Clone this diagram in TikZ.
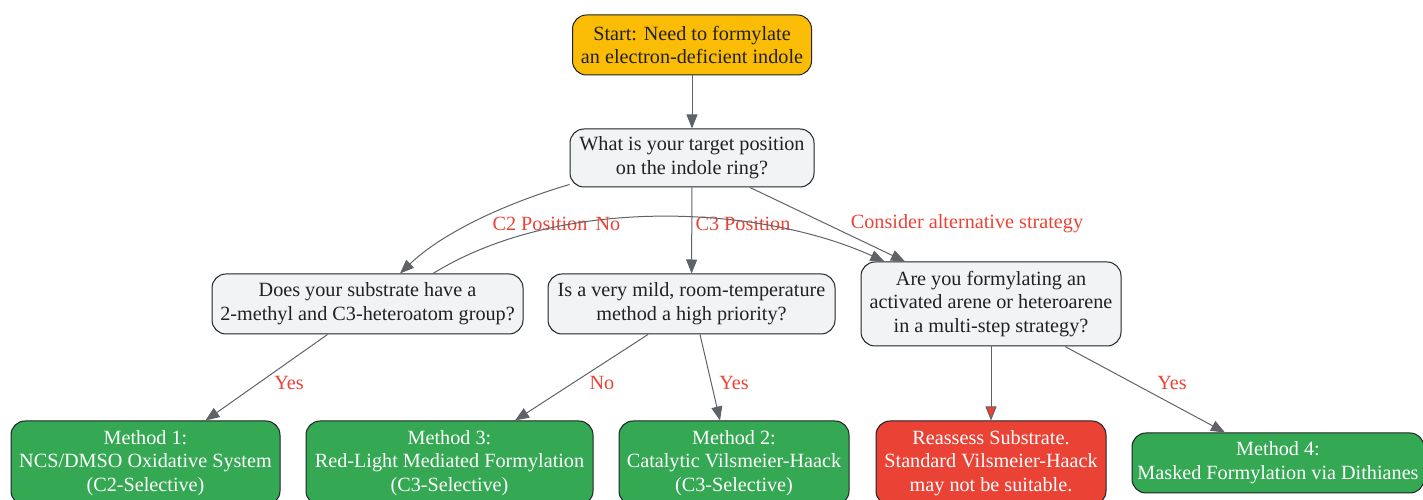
\documentclass[tikz,border=0pt]{standalone}
\usepackage{fontspec}
\setmainfont{Liberation Serif}
\usetikzlibrary{positioning}
\usetikzlibrary{arrows.meta}
\definecolor{startc}{HTML}{FBBC05}
\definecolor{askc}{HTML}{F1F3F4}
\definecolor{goodc}{HTML}{34A853}
\definecolor{badc}{HTML}{EA4335}
\definecolor{edgec}{HTML}{5F6368}
\definecolor{inkc}{HTML}{202124}
\tikzset{box/.style={draw=inkc,line width=1pt,rounded corners=14pt,align=center,inner sep=0pt,font=\fontsize{20.2}{23.8}\selectfont}}
\tikzset{ask/.style={box,fill=askc,text=inkc}}
\tikzset{meth/.style={box,fill=goodc,text=white,minimum height=84pt}}
\tikzset{lbl/.style={text=badc,font=\fontsize{20.2}{23.8}\selectfont,inner sep=1pt}}
\tikzset{>={Triangle[length=14pt,width=11pt]}}

\begin{document}
\begin{tikzpicture}[x=1pt,y=1pt]
        \useasboundingbox (0,0) rectangle (1423,500);
        \node[box, fill=startc, text=inkc, minimum width=239pt, minimum height=60pt] (S) at (692,455) {Start: Need to formylate\\an electron-deficient indole};
        \node[ask, minimum width=244pt, minimum height=58pt] (Q1) at (692,342) {What is your target position\\on the indole ring?};
        \node[ask, minimum width=311pt, minimum height=60pt] (Q2) at (367.5,196) {Does your substrate have a\\2-methyl and C3-heteroatom group?};
        \node[ask, minimum width=287pt, minimum height=60pt] (Q3) at (691.5,196) {Is a very mild, room-temperature\\method a high priority?};
        \node[ask, minimum width=260pt, minimum height=84pt] (Q4) at (991,196) {Are you formylating an\\activated arene or heteroarene\\in a multi-step strategy?};

        \node[meth, minimum width=269pt] (M1) at (145.5,37) {Method 1:\\NCS/DMSO Oxidative System\\(C2-Selective)};
        \node[meth, minimum width=287pt] (M3) at (449.5,37) {Method 3:\\Red-Light Mediated Formylation\\(C3-Selective)};
        \node[meth, minimum width=230pt] (M2) at (734,37) {Method 2:\\Catalytic Vilsmeier-Haack\\(C3-Selective)};
        \node[meth, fill=badc, minimum width=230pt] (R) at (991,37) {Reassess Substrate.\\Standard Vilsmeier-Haack\\may not be suitable.};
        \node[meth, minimum width=292pt, minimum height=60pt] (M4) at (1278,37) {Method 4:\\Masked Formylation via Dithianes};

        \begin{scope}[edgec, line width=1pt]
        \draw[->] (S) -- (Q1);
        \draw[->] ([yshift=3pt]Q1.south west) .. controls (500,295) and (440,265) .. ([xshift=32.5pt]Q2.north)
            node[lbl] at (540,276) {C2 Position};
        \draw[->] (Q1) -- (Q3)
            node[lbl] at (743,276) {C3 Position};
        \draw[->] ([xshift=58pt]Q1.south) -- ([xshift=-86pt]Q4.north)
            node[lbl] at (967,276) {Consider alternative strategy};
        \draw[->] ([xshift=65.5pt]Q2.north) .. controls (560,305) and (760,295) .. ([xshift=24pt]Q4.north west)
            node[lbl] at (608,276) {No};
        \draw[->] ([xshift=-40pt]Q2.south) -- ([xshift=60pt]M1.north)
            node[lbl] at (289,117) {Yes};
        \draw[->] ([xshift=-43.5pt]Q3.south) -- ([xshift=65.5pt]M3.north)
            node[lbl] at (602,117) {No};
        \draw[->] ([xshift=8.5pt]Q3.south) -- ([xshift=-14pt]M2.north)
            node[lbl] at (734,117) {Yes};
        \draw[-{Triangle[length=14pt,width=11pt,fill=badc]}] (Q4) -- (R);
        \draw[->] ([xshift=74pt]Q4.south) -- ([xshift=-53pt]M4.north)
            node[lbl] at (1172,117) {Yes};
        \end{scope}
\end{tikzpicture}
\end{document}
